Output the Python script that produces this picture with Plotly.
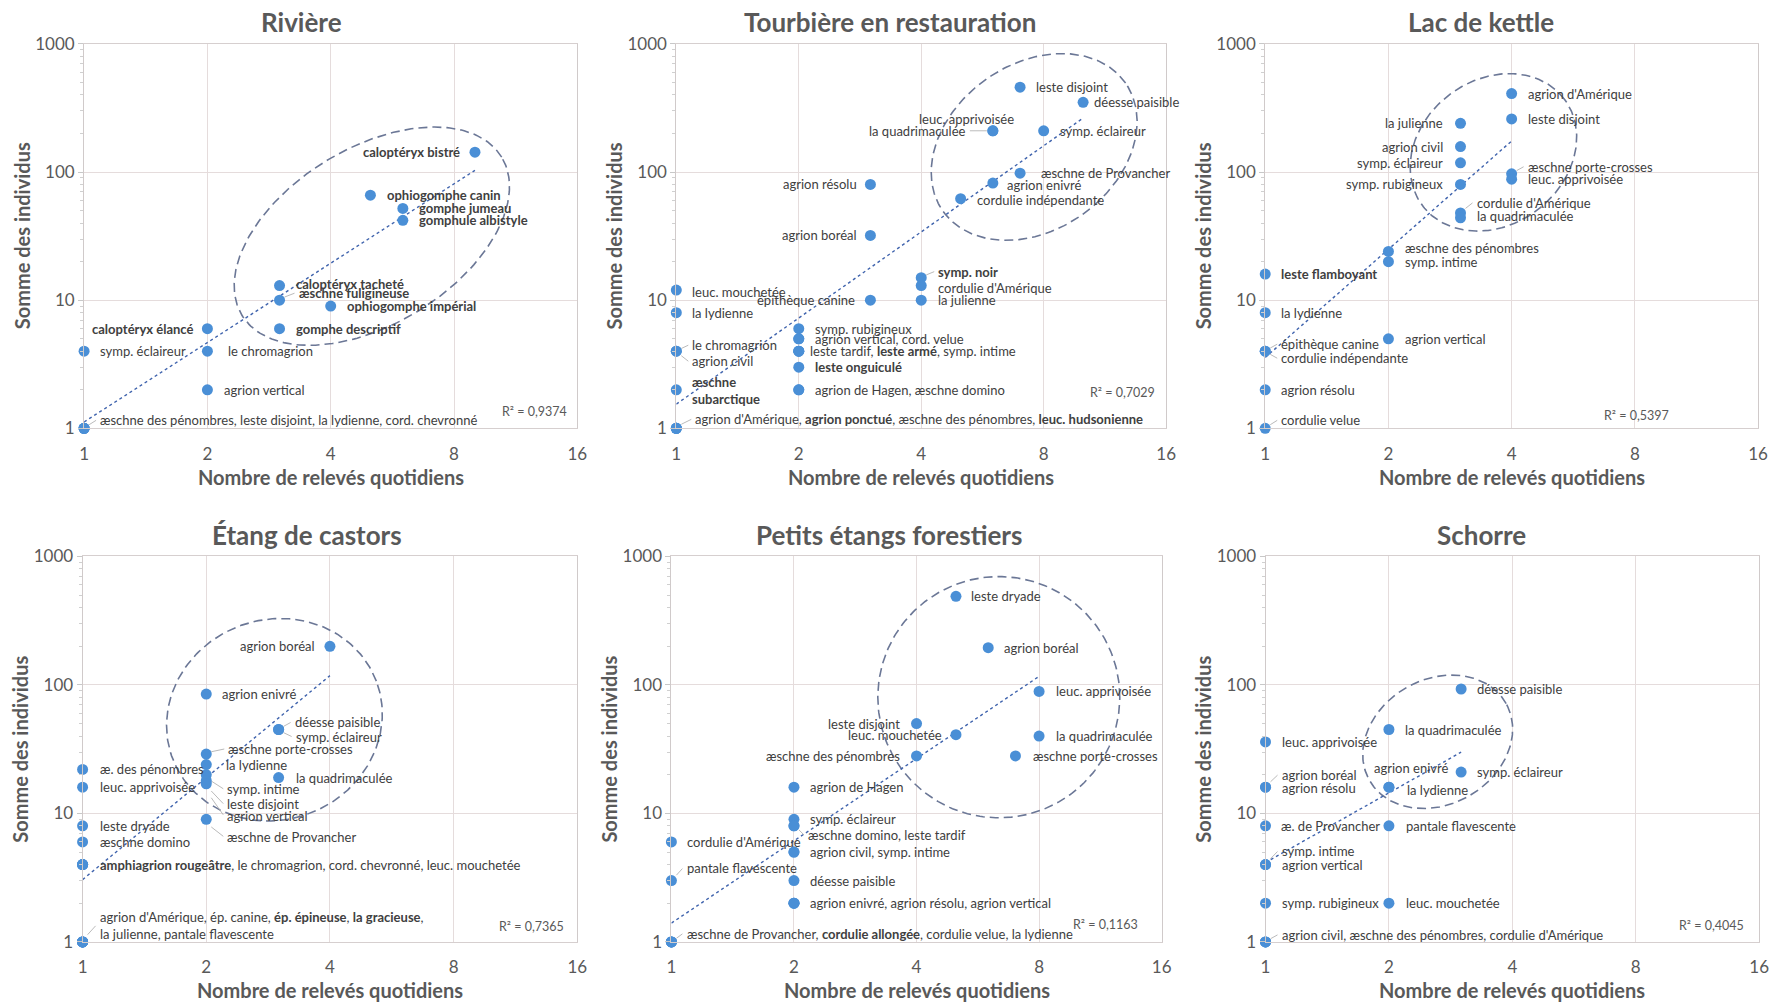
import math
import numpy as np
import plotly.graph_objects as go

W, H = 1777, 1002
FONT = "Lato"

# ---------------- common texts / ticks ----------------
X_TICKS = [1, 2, 4, 8, 16]
Y_TICKS = [1, 10, 100, 1000]
Y_MINOR = [k * d for d in (1, 10, 100) for k in range(2, 10)]
X_TITLE = "Nombre de relevés quotidiens"
Y_TITLE = "Somme des individus"

TITLES = ["Rivière", "Tourbière en restauration", "Lac de kettle",
          "Étang de castors", "Petits étangs forestiers", "Schorre"]
R2_TEXT = ["R² = 0,9374", "R² = 0,7029", "R² = 0,5397",
           "R² = 0,7365", "R² = 0,1163", "R² = 0,4045"]

# ---------------- data : Rivière ----------------
RIV_NAMES = ["caloptéryx bistré", "ophiogomphe canin", "gomphe jumeau", "gomphule albistyle",
             "caloptéryx tacheté", "æschne fuligineuse", "ophiogomphe impérial", "gomphe descriptif",
             "caloptéryx élancé", "symp. éclaireur", "le chromagrion", "agrion vertical",
             "æschne des pénombres", "leste disjoint", "la lydienne", "cord. chevronné"]
RIV_X = [9, 5, 6, 6, 3, 3, 4, 3, 2, 1, 2, 2, 1, 1, 1, 1]
RIV_Y = [143, 66, 52, 42, 13, 10, 9, 6, 6, 4, 4, 2, 1, 1, 1, 1]
RIV_BOLD = ["caloptéryx bistré", "ophiogomphe canin", "gomphe jumeau", "gomphule albistyle",
            "caloptéryx tacheté", "æschne fuligineuse", "ophiogomphe impérial", "gomphe descriptif",
            "caloptéryx élancé"]

# ---------------- data : Tourbière en restauration ----------------
TOU_NAMES = ["leste disjoint", "déesse paisible", "leuc. apprivoisée", "la quadrimaculée",
             "symp. éclaireur", "æschne de Provancher", "agrion enivré", "cordulie indépendante",
             "agrion résolu", "agrion boréal", "symp. noir", "cordulie d'Amérique", "la julienne",
             "leuc. mouchetée", "épithèque canine", "la lydienne", "symp. rubigineux",
             "agrion vertical", "cord. velue", "leste tardif", "leste armé", "symp. intime",
             "leste onguiculé", "agrion de Hagen", "æschne domino", "le chromagrion",
             "agrion civil", "æschne subarctique", "agrion d'Amérique", "agrion ponctué",
             "æschne des pénombres", "leuc. hudsonienne"]
TOU_X = [7, 10, 6, 6, 8, 7, 6, 5, 3, 3, 4, 4, 4, 1, 3, 1, 2, 2, 2, 2, 2, 2, 2, 2, 2, 1, 1, 1, 1, 1, 1, 1]
TOU_Y = [460, 350, 210, 210, 210, 98, 82, 62, 80, 32, 15, 13, 10, 12, 10, 8, 6, 5, 5, 4, 4, 4, 3, 2, 2,
         4, 4, 2, 1, 1, 1, 1]
TOU_BOLD = ["symp. noir", "leste armé", "leste onguiculé", "æschne subarctique",
            "agrion ponctué", "leuc. hudsonienne"]

# ---------------- data : Lac de kettle ----------------
LAC_NAMES = ["agrion d'Amérique", "leste disjoint", "la julienne", "agrion civil", "symp. éclaireur",
             "symp. rubigineux", "æschne porte-crosses", "leuc. apprivoisée", "cordulie d'Amérique",
             "la quadrimaculée", "æschne des pénombres", "symp. intime", "leste flamboyant",
             "la lydienne", "agrion vertical", "épithèque canine", "cordulie indépendante",
             "agrion résolu", "cordulie velue"]
LAC_X = [4, 4, 3, 3, 3, 3, 4, 4, 3, 3, 2, 2, 1, 1, 2, 1, 1, 1, 1]
LAC_Y = [410, 260, 240, 158, 118, 80, 97, 88, 48, 44, 24, 20, 16, 8, 5, 4, 4, 2, 1]
LAC_BOLD = ["leste flamboyant"]

# ---------------- data : Étang de castors ----------------
CAS_NAMES = ["agrion boréal", "agrion enivré", "déesse paisible", "symp. éclaireur",
             "æschne porte-crosses", "la lydienne", "symp. intime", "leste disjoint",
             "agrion vertical", "la quadrimaculée", "æ. des pénombres", "leuc. apprivoisée",
             "æschne de Provancher", "leste dryade", "æschne domino", "amphiagrion rougeâtre",
             "le chromagrion", "cord. chevronné", "leuc. mouchetée", "agrion d'Amérique",
             "ép. canine", "ép. épineuse", "la gracieuse", "la julienne", "pantale flavescente"]
CAS_X = [4, 2, 3, 3, 2, 2, 2, 2, 2, 3, 1, 1, 2, 1, 1, 1, 1, 1, 1, 1, 1, 1, 1, 1, 1]
CAS_Y = [200, 85, 45, 45, 29, 24, 20, 18, 17, 19, 22, 16, 9, 8, 6, 4, 4, 4, 4, 1, 1, 1, 1, 1, 1]
CAS_BOLD = ["amphiagrion rougeâtre", "ép. épineuse", "la gracieuse"]

# ---------------- data : Petits étangs forestiers ----------------
FOR_NAMES = ["leste dryade", "agrion boréal", "leuc. apprivoisée", "leste disjoint",
             "leuc. mouchetée", "la quadrimaculée", "æschne des pénombres", "æschne porte-crosses",
             "agrion de Hagen", "symp. éclaireur", "æschne domino", "leste tardif",
             "cordulie d'Amérique", "agrion civil", "symp. intime", "pantale flavescente",
             "déesse paisible", "agrion enivré", "agrion résolu", "agrion vertical",
             "æschne de Provancher", "cordulie allongée", "cordulie velue", "la lydienne"]
FOR_X = [5, 6, 8, 4, 5, 8, 4, 7, 2, 2, 2, 2, 1, 2, 2, 1, 2, 2, 2, 2, 1, 1, 1, 1]
FOR_Y = [490, 195, 89, 50, 41, 40, 28, 28, 16, 9, 8, 8, 6, 5, 5, 3, 3, 2, 2, 2, 1, 1, 1, 1]
FOR_BOLD = ["cordulie allongée"]

# ---------------- data : Schorre ----------------
SCH_NAMES = ["déesse paisible", "la quadrimaculée", "leuc. apprivoisée", "symp. éclaireur",
             "agrion boréal", "agrion résolu", "agrion enivré", "la lydienne", "æ. de Provancher",
             "pantale flavescente", "symp. intime", "agrion vertical", "symp. rubigineux",
             "leuc. mouchetée", "agrion civil", "æschne des pénombres", "cordulie d'Amérique"]
SCH_X = [3, 2, 1, 3, 1, 1, 2, 2, 1, 2, 1, 1, 1, 2, 1, 1, 1]
SCH_Y = [93, 45, 36, 21, 16, 16, 16, 16, 8, 8, 4, 4, 2, 2, 1, 1, 1]
SCH_BOLD = []

# ---------------- label placement (indices into the species lists) ----------------
# (species indices, side, x offset px, y offset px (down), line break)
RIV_LABELS = [([0], "l", -13, 0, None), ([1], "r", 14, 0, None), ([2], "r", 14, 0, None),
              ([3], "r", 14, 0, None), ([4], "r", 14, -2, None), ([5], "r", 17, -7, None),
              ([6], "r", 14, 0, None), ([7], "r", 14, 0, None), ([8], "l", -12, 0, None),
              ([9], "r", 14, 0, None), ([10], "r", 18, 0, None), ([11], "r", 14, 0, None),
              ([12, 13, 14, 15], "r", 14, -8, None)]
TOU_LABELS = [([0], "r", 14, 0, None), ([1], "r", 9, 0, None), ([2], "c", -26, -12, None),
              ([3], "l", -25, 0, None), ([4], "r", 14, 0, None), ([5], "r", 19, 0, None),
              ([6], "r", 12, 2, None), ([7], "r", 14, 1, None), ([8], "l", -11, 0, None),
              ([9], "l", -11, 0, None), ([10], "r", 15, -6, None), ([11], "r", 15, 2, None),
              ([12], "r", 15, 0, None), ([13], "r", 14, 2, None), ([14], "l", -13, 0, None),
              ([15], "r", 14, 0, None), ([16], "r", 14, 0, None), ([17, 18], "r", 14, 0, None),
              ([19, 20, 21], "r", 9, 0, None), ([22], "r", 14, 0, None), ([23, 24], "r", 14, 0, None),
              ([25], "r", 14, -6, None), ([26], "r", 14, 10, None), ([27], "r", 14, 1, "split"),
              ([28, 29, 30, 31], "r", 17, -9, None)]
LAC_LABELS = [([0], "r", 14, 0, None), ([1], "r", 14, 0, None), ([2], "l", -15, 0, None),
              ([3], "l", -15, 0, None), ([4], "l", -15, 0, None), ([5], "l", -15, 0, None),
              ([6], "r", 14, -7, None), ([7], "r", 14, 0, None), ([8], "r", 14, -10, None),
              ([9], "r", 14, -2, None), ([10], "r", 14, -3, None), ([11], "r", 14, 0, None),
              ([12], "r", 14, 0, None), ([13], "r", 14, 0, None), ([14], "r", 14, 0, None),
              ([15], "r", 14, -7, None), ([16], "r", 14, 7, None), ([17], "r", 14, 0, None),
              ([18], "r", 14, -8, None)]
CAS_LABELS = [([0], "l", -13, 0, None), ([1], "r", 14, 0, None), ([2], "r", 14, -7, None),
              ([3], "r", 15, 7, None), ([4], "r", 20, -5, None), ([5], "r", 18, 0, None),
              ([6], "r", 19, 14, None), ([7], "r", 19, 23, None), ([8], "r", 19, 31, None),
              ([9], "r", 15, 0, None), ([10], "r", 15, 0, None), ([11], "r", 15, 0, None),
              ([12], "r", 19, 17, None), ([13], "r", 15, 0, None), ([14], "r", 15, 0, None),
              ([15, 16, 17, 18], "r", 15, 0, None), ([19, 20, 21, 22, 23, 24], "r", 15, -16, 4)]
FOR_LABELS = [([0], "r", 13, 0, None), ([1], "r", 14, 0, None), ([2], "r", 15, 0, None),
              ([3], "l", -14, 0, None), ([4], "l", -12, 0, None), ([5], "r", 15, 0, None),
              ([6], "l", -14, 0, None), ([7], "r", 15, 0, None), ([8], "r", 14, 0, None),
              ([9], "r", 14, 0, None), ([10, 11], "r", 12, 9, None), ([12], "r", 13, 0, None),
              ([13, 14], "r", 14, 0, None), ([15], "r", 13, -12, None), ([16], "r", 14, 0, None),
              ([17, 18, 19], "r", 14, 0, None), ([20, 21, 22, 23], "r", 13, -8, None)]
SCH_LABELS = [([0], "r", 14, 0, None), ([1], "r", 14, 0, None), ([2], "r", 14, 0, None),
              ([3], "r", 14, 0, None), ([4], "r", 14, -12, None), ([5], "r", 14, 1, None),
              ([6], "r", -17, -19, None), ([7], "r", 16, 3, None), ([8], "r", 13, 0, None),
              ([9], "r", 15, 0, None), ([10], "r", 14, -13, None), ([11], "r", 14, 0, None),
              ([12], "r", 14, 0, None), ([13], "r", 15, 0, None), ([14, 15, 16], "r", 14, -7, None)]

# ---------------- layout geometry (target pixels in the picture) ----------------
BOXES = [(83.5, 576.8, 43, 427), (675.8, 1165.7, 43, 427), (1264.8, 1757.7, 43, 427),
         (82.0, 576.8, 555, 940), (670.9, 1161.2, 555, 940), (1265.1, 1758.8, 555, 940)]
TITLE_POS = [(301, 21), (890, 21), (1481, 21), (306, 534), (889, 534), (1481, 534)]
XTITLE_Y = [476, 476, 476, 988, 988, 988]
R2_POS = [(0.983, 0.044), (0.981, 0.092), (0.823, 0.033), (0.977, 0.039), (0.956, 0.045), (0.973, 0.043)]
ELLIPSES = [((5.04, 31.6), 152, 88, 31.3), ((7.58, 157), 111.5, 83, 34.9),
            ((3.61, 142.5), 88.7, 72.5, 36.6), ((2.93, 53.6), 109, 100, 20.7),
            ((6.37, 80.3), 121, 120.5, 0.0), ((2.63, 36.1), 78.4, 62.6, 29.1)]

# calibration of the photographed page (picture = s * page + b)
SX, BX = 0.9917, 4.4
SY, BY = 0.978, 10.1


def fx(v):
    return (v - BX) / SX


def fy(v):
    return (v - BY) / SY


PANELS = [
    (RIV_NAMES, RIV_X, RIV_Y, RIV_BOLD, RIV_LABELS),
    (TOU_NAMES, TOU_X, TOU_Y, TOU_BOLD, TOU_LABELS),
    (LAC_NAMES, LAC_X, LAC_Y, LAC_BOLD, LAC_LABELS),
    (CAS_NAMES, CAS_X, CAS_Y, CAS_BOLD, CAS_LABELS),
    (FOR_NAMES, FOR_X, FOR_Y, FOR_BOLD, FOR_LABELS),
    (SCH_NAMES, SCH_X, SCH_Y, SCH_BOLD, SCH_LABELS),
]

MARKER_COLOR = "#4a8fd6"
TREND_COLOR = "#3f63ad"
ELLIPSE_COLOR = "#6b7796"
GRID_COLOR = "#e5dcdc"
TEXT_COLOR = "#404040"
AXIS_TEXT = "#595959"
LEADER_COLOR = "#a8a8a8"


def fmt(name, bold):
    return f"<b>{name}</b>" if name in bold else name


def build_label(names, bold, idxs, br):
    if br == "split":
        n = names[idxs[0]]
        t = n.replace(" ", "<br>", 1)
        return f"<b>{t}</b>" if n in bold else t
    parts = [fmt(names[i], bold) for i in idxs]
    if isinstance(br, int):
        return ", ".join(parts[:br]) + ",<br>" + ", ".join(parts[br:])
    return ", ".join(parts)


fig = go.Figure()
layout_axes = {}
annotations = []

for i, (names, xs, ys, bold, labels) in enumerate(PANELS):
    n = i + 1
    xa = "x" if n == 1 else f"x{n}"
    ya = "y" if n == 1 else f"y{n}"
    l, r, t, b = BOXES[i]
    px_oct = (r - l) / 4.0
    px_dec = (b - t) / 3.0
    L, R, T, B = fx(l), fx(r), fy(t), fy(b)

    def off(xv, yv, dxp, dyp):
        return xv * 2 ** (dxp / px_oct), yv * 10 ** (-dyp / px_dec)

    # dashed ellipse (decoration)
    (cx, cy), ea, eb, ang = ELLIPSES[i]
    th = np.radians(ang)
    tt = np.linspace(0, 2 * np.pi, 241)
    ex_px = ea * np.cos(tt) * np.cos(th) - eb * np.sin(tt) * np.sin(th)
    ey_px = ea * np.cos(tt) * np.sin(th) + eb * np.sin(tt) * np.cos(th)
    ex = 2 ** (np.log2(cx) + ex_px / px_oct)
    ey = 10 ** (np.log10(cy) + ey_px / px_dec)
    fig.add_trace(go.Scatter(x=ex, y=ey, mode="lines", xaxis=xa, yaxis=ya,
                             line=dict(color=ELLIPSE_COLOR, width=1.6, dash="9px,5px"),
                             hoverinfo="skip", showlegend=False))

    # power trendline (least squares in log-log)
    lx = np.log10(np.array(xs, dtype=float))
    ly = np.log10(np.array(ys, dtype=float))
    m, c = np.polyfit(lx, ly, 1)
    tx = np.array([min(xs), max(xs)], dtype=float)
    ty = 10 ** (c + m * np.log10(tx))
    fig.add_trace(go.Scatter(x=tx, y=ty, mode="lines", xaxis=xa, yaxis=ya,
                             line=dict(color=TREND_COLOR, width=1.4, dash="dot"),
                             hoverinfo="skip", showlegend=False))

    # leader lines for displaced labels
    lead_x, lead_y = [], []
    for idxs, side, dx, dy, br in labels:
        k = idxs[0]
        if side == "r" and abs(dy) >= 5 and dx > 0:
            p0 = off(xs[k], ys[k], 5, 0.45 * dy)
            p1 = off(xs[k], ys[k], dx - 2, dy)
            lead_x += [p0[0], p1[0], None]
            lead_y += [p0[1], p1[1], None]
        elif side == "l" and dx <= -20:
            p0 = off(xs[k], ys[k], -6, 0)
            p1 = off(xs[k], ys[k], dx + 2, dy)
            lead_x += [p0[0], p1[0], None]
            lead_y += [p0[1], p1[1], None]
    if lead_x:
        fig.add_trace(go.Scatter(x=lead_x, y=lead_y, mode="lines", xaxis=xa, yaxis=ya,
                                 line=dict(color=LEADER_COLOR, width=0.8),
                                 hoverinfo="skip", showlegend=False, cliponaxis=False))

    # points
    fig.add_trace(go.Scatter(x=xs, y=ys, mode="markers", xaxis=xa, yaxis=ya, text=names,
                             marker=dict(size=11, color=MARKER_COLOR, line=dict(width=0)),
                             cliponaxis=False, showlegend=False))

    # labels
    for idxs, side, dx, dy, br in labels:
        k = idxs[0]
        anchor = {"l": "right", "r": "left", "c": "center"}[side]
        annotations.append(dict(
            x=math.log10(xs[k]), y=math.log10(ys[k]), xref=xa, yref=ya,
            text=build_label(names, bold, idxs, br), showarrow=False,
            xanchor=anchor, yanchor="middle", xshift=dx / SX, yshift=-dy / SY, align="left",
            font=dict(family=FONT, size=13, color=TEXT_COLOR)))

    # axes
    xkey = "xaxis" if n == 1 else f"xaxis{n}"
    ykey = "yaxis" if n == 1 else f"yaxis{n}"
    layout_axes[xkey] = dict(
        type="log", range=[0, math.log10(16)], domain=[L / W, R / W], anchor=ya,
        tickmode="array", tickvals=X_TICKS, ticktext=[str(v) for v in X_TICKS],
        showgrid=True, gridcolor=GRID_COLOR, gridwidth=1, zeroline=False,
        showline=True, linecolor="#d6cfcf", linewidth=1, mirror=True, ticks="",
        ticklabelstandoff=10, tickfont=dict(family=FONT, size=17, color=AXIS_TEXT))
    layout_axes[ykey] = dict(
        type="log", range=[0, 3], domain=[1 - B / H, 1 - T / H], anchor=xa,
        tickmode="array", tickvals=Y_TICKS, ticktext=[str(v) for v in Y_TICKS],
        showgrid=True, gridcolor=GRID_COLOR, gridwidth=1, zeroline=False,
        showline=True, linecolor="#d0caca", linewidth=1, mirror=True,
        ticks="outside", ticklen=5, tickcolor="#c8c8c8",
        minor=dict(tickmode="array", tickvals=Y_MINOR, ticks="outside", ticklen=3,
                   tickcolor="#d0d0d0", showgrid=False),
        tickfont=dict(family=FONT, size=17, color=AXIS_TEXT))

    # title
    tx_, ty_ = TITLE_POS[i]
    annotations.append(dict(x=fx(tx_) / W, y=1 - fy(ty_) / H, xref="paper", yref="paper",
                            text=f"<b>{TITLES[i]}</b>", showarrow=False,
                            xanchor="center", yanchor="middle",
                            font=dict(family=FONT, size=26, color=AXIS_TEXT)))
    # axis titles
    annotations.append(dict(x=fx((l + r) / 2) / W, y=1 - fy(XTITLE_Y[i]) / H,
                            xref="paper", yref="paper",
                            text=f"<b>{X_TITLE}</b>", showarrow=False,
                            xanchor="center", yanchor="middle",
                            font=dict(family=FONT, size=20, color=AXIS_TEXT)))
    annotations.append(dict(x=fx(l - 62) / W, y=1 - fy((t + b) / 2) / H,
                            xref="paper", yref="paper",
                            text=f"<b>{Y_TITLE}</b>", showarrow=False, textangle=-90,
                            xanchor="center", yanchor="middle",
                            font=dict(family=FONT, size=20, color=AXIS_TEXT)))
    # R²
    rx, ry = R2_POS[i]
    annotations.append(dict(x=rx, y=ry, xref=f"{xa} domain", yref=f"{ya} domain",
                            text=R2_TEXT[i], showarrow=False, xanchor="right", yanchor="middle",
                            font=dict(family=FONT, size=12.5, color="#595959")))

fig.update_layout(
    width=W, height=H, margin=dict(l=0, r=0, t=0, b=0),
    paper_bgcolor="white", plot_bgcolor="white", showlegend=False,
    annotations=annotations, **layout_axes)

fig.write_html("out.html", config={"displayModeBar": False},
               post_script="document.body.style.margin='0';document.body.style.overflow='hidden';")
